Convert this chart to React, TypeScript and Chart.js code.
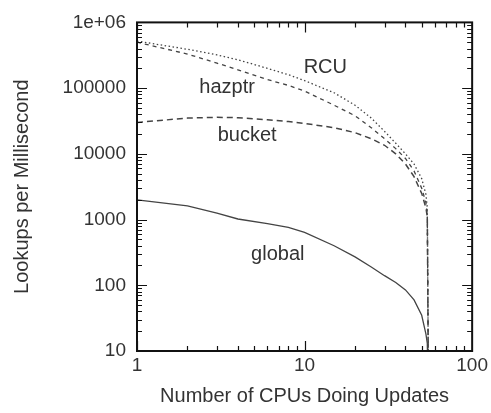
import React, { useEffect, useRef } from 'react';
import { Chart, registerables } from 'chart.js';
Chart.register(...registerables);

const cpus = [1, 2, 3, 4, 6, 8, 10, 15, 20, 25, 30, 35, 40, 45, 50, 53, 54, 55];
const rcu = [520000, 390000, 320000, 270000, 200000, 160000, 130000, 85000, 55000, 35000, 22000, 14500, 10000, 7000, 4200, 2400, 1500, 1];
const hazptr = [500000, 330000, 240000, 190000, 135000, 110000, 90000, 55000, 38000, 25000, 17000, 12000, 8500, 5500, 3000, 1800, 1200, 1];
const bucket = [30000, 35000, 36000, 35500, 33000, 31000, 29000, 25000, 21000, 17000, 13500, 10000, 7000, 4500, 2500, 1500, 1100, 1];
const globalLock = [2000, 1620, 1250, 1020, 870, 760, 640, 400, 270, 190, 140, 110, 85, 60, 35, 18, 13, 1];

const xTickValues = [1, 10, 100];
const xTickLabels = ['1', '10', '100'];
const yTickValues = [10, 100, 1000, 10000, 100000, 1000000];
const yTickLabels = ['10', '100', '1000', '10000', '100000', '1e+06'];

const seriesNames = ['RCU', 'hazptr', 'bucket', 'global'];
const labelX = [13.3, 3.45, 4.54, 6.92];
const labelY = [205000, 103000, 19000, 293];

const FONT = '"Liberation Sans", Arial, Helvetica, sans-serif';
const TEXT = '#333';
const LINE = '#444';

const framePlugin = {
  id: 'frameTicks',
  afterDatasetsDraw(chart: any) {
    const { ctx, chartArea: a, scales } = chart;
    const xs = scales.x, ys = scales.y;
    ctx.save();
    ctx.strokeStyle = '#111';
    ctx.lineWidth = 1.2;
    ctx.beginPath();
    for (const d of [1, 10]) {
      for (let k = 1; k <= 9; k++) {
        const v = d * k;
        const len = k === 1 ? 10 : 5;
        const px = Math.round(xs.getPixelForValue(v)) + 0.5;
        ctx.moveTo(px, a.bottom); ctx.lineTo(px, a.bottom - len);
        ctx.moveTo(px, a.top); ctx.lineTo(px, a.top + len);
      }
    }
    for (const d of [10, 100, 1000, 10000, 100000]) {
      for (let k = 1; k <= 9; k++) {
        const v = d * k;
        const len = k === 1 ? 10 : 5;
        const py = Math.round(ys.getPixelForValue(v)) + 0.5;
        ctx.moveTo(a.left, py); ctx.lineTo(a.left + len, py);
        ctx.moveTo(a.right, py); ctx.lineTo(a.right - len, py);
      }
    }
    ctx.stroke();
    ctx.lineWidth = 2;
    ctx.strokeRect(a.left, a.top, a.right - a.left, a.bottom - a.top);
    ctx.fillStyle = TEXT;
    ctx.font = `20px ${FONT}`;
    ctx.textAlign = 'center';
    ctx.textBaseline = 'middle';
    seriesNames.forEach((n, i) => {
      ctx.fillText(n, xs.getPixelForValue(labelX[i]), ys.getPixelForValue(labelY[i]));
    });
    ctx.restore();
  },
};

export default function App() {
  const ref = useRef<HTMLCanvasElement>(null);
  useEffect(() => {
    const mk = (label: string, data: number[], dash: number[], width: number) => ({
      label,
      data: cpus.map((x, i) => ({ x, y: data[i] })),
      borderColor: LINE,
      borderWidth: width,
      borderDash: dash,
      pointRadius: 0,
      tension: 0,
      fill: false,
    });
    const chart = new Chart(ref.current as HTMLCanvasElement, {
      type: 'line',
      data: {
        datasets: [
          mk('RCU', rcu, [1.5, 2.5], 1.3),
          mk('hazptr', hazptr, [4, 4], 1.3),
          mk('bucket', bucket, [6, 4], 1.5),
          mk('global', globalLock, [], 1.3),
        ],
      },
      options: {
        responsive: false,
        animation: false,
        layout: { padding: { top: 17, right: 16, left: 0, bottom: 0 } },
        plugins: { legend: { display: false }, tooltip: { enabled: false } },
        scales: {
          x: {
            type: 'logarithmic',
            min: 1,
            max: 100,
            grid: { display: false, drawTicks: false },
            border: { display: false },
            afterBuildTicks: (s: any) => { s.ticks = xTickValues.map((v) => ({ value: v })); },
            afterFit: (s: any) => { s.height = 62; },
            ticks: {
              autoSkip: false,
              maxRotation: 0,
              padding: 3,
              color: TEXT,
              font: { family: FONT, size: 19 },
              callback: (v: any) => xTickLabels[xTickValues.indexOf(Number(v))] ?? '',
            },
            title: {
              display: true,
              text: 'Number of CPUs Doing Updates',
              color: TEXT,
              font: { family: FONT, size: 20 },
              padding: { top: 0, bottom: 5 },
            },
          },
          y: {
            type: 'logarithmic',
            min: 10,
            max: 1000000,
            grid: { display: false, drawTicks: false },
            border: { display: false },
            afterBuildTicks: (s: any) => { s.ticks = yTickValues.map((v) => ({ value: v })); },
            afterFit: (s: any) => { s.width = 137; },
            ticks: {
              autoSkip: false,
              padding: 11,
              color: TEXT,
              font: { family: FONT, size: 19 },
              callback: (v: any) => yTickLabels[yTickValues.indexOf(Number(v))] ?? '',
            },
            title: {
              display: true,
              text: 'Lookups per Millisecond',
              color: TEXT,
              font: { family: FONT, size: 20 },
              padding: { top: 10, bottom: 0 },
            },
          },
        },
      },
      plugins: [framePlugin],
    });
    return () => chart.destroy();
  }, []);
  return (
    <div style={{ position: 'fixed', left: 0, top: 0, width: 491, height: 413, background: '#fff' }}>
      <canvas ref={ref} width={491} height={413} style={{ display: 'block' }} />
    </div>
  );
}
